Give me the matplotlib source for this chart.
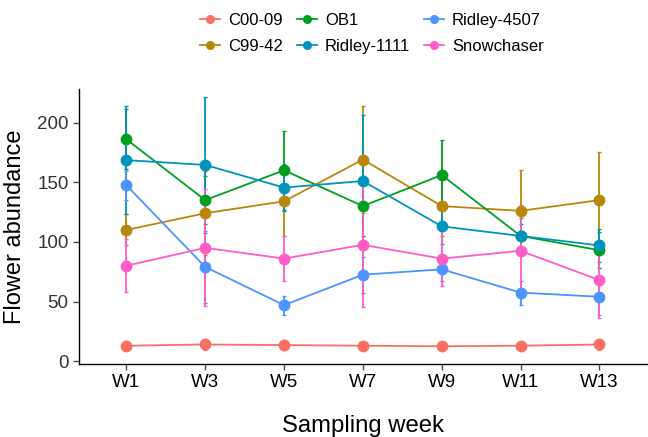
import numpy as np
import matplotlib
matplotlib.use("Agg")
import matplotlib.pyplot as plt
from matplotlib.lines import Line2D

plt.rcParams['font.family'] = ['Liberation Sans', 'DejaVu Sans']

# Data
weeks = ['W1', 'W3', 'W5', 'W7', 'W9', 'W11', 'W13']
varieties = ['C00-09', 'C99-42', 'OB1', 'Ridley-1111', 'Ridley-4507', 'Snowchaser']

c00_09 = [13, 14, 13.5, 13, 12.5, 13, 14]
c00_09_err = [4, 5, 4, 3, 3, 4, 5]
c99_42 = [110, 124, 134, 169, 130, 126, 135]
c99_42_err = [13, 35, 29, 45, 25, 34, 40]
ob1 = [186, 135, 160, 130, 156, 105, 93]
ob1_err = [25, 20, 33, 25, 29, 15, 15]
ridley_1111 = [168.5, 164.5, 145.5, 151, 113, 105, 97]
ridley_1111_err = [45, 57, 20, 55, 15, 10, 14]
ridley_4507 = [147.5, 79, 47, 72.5, 77, 57.5, 54]
ridley_4507_err = [12, 30, 8, 15, 10, 10, 15]
snowchaser = [80, 95, 86, 97.5, 86, 92.5, 68]
snowchaser_err = [22, 49, 19, 52, 23, 38, 32]

means = [c00_09, c99_42, ob1, ridley_1111, ridley_4507, snowchaser]
errs = [c00_09_err, c99_42_err, ob1_err, ridley_1111_err, ridley_4507_err, snowchaser_err]
colors = ['#FA6F64', '#B8870B', '#00A01E', '#0094BC', '#4C94FF', '#FF5CC8']

fig = plt.figure(figsize=(6.48, 4.37), dpi=100)
ax = fig.add_axes([0.122, 0.168, 0.876, 0.628])

x = np.arange(len(weeks))
handles = []
for name, m, e, c in zip(varieties, means, errs, colors):
    ax.errorbar(x, m, yerr=e, color=c, lw=1.3, marker='o', ms=7.5,
                elinewidth=1.3, capsize=1.5, capthick=1.0)
    handles.append(Line2D([], [], color=c, lw=1.3, marker='o', ms=5.5, label=name))

ax.set_xlim(-0.6, 6.6)
ax.set_ylim(-2, 228)
ax.set_xticks(x)
ax.set_xticklabels(weeks)
ax.set_yticks([0, 50, 100, 150, 200])
ax.tick_params(labelsize=13.5, colors='#4D4D4D', labelcolor='#333333', length=4, width=1)
for lbl in ax.get_xticklabels():
    lbl.set_color('black')
ax.spines['top'].set_visible(False)
ax.spines['right'].set_visible(False)
ax.spines['left'].set_linewidth(1)
ax.spines['bottom'].set_linewidth(1)

ax.set_xlabel('Sampling week', fontsize=17.2, labelpad=17.5)
ax.set_ylabel('Flower abundance', fontsize=17, labelpad=8)

fig.legend(handles=handles, loc='center', bbox_to_anchor=(0.574, 0.923), ncol=3,
           frameon=False, fontsize=12, handlelength=1.2, columnspacing=0.8,
           handletextpad=0.5, labelspacing=0.65)

fig.savefig('out.png', dpi=100)
